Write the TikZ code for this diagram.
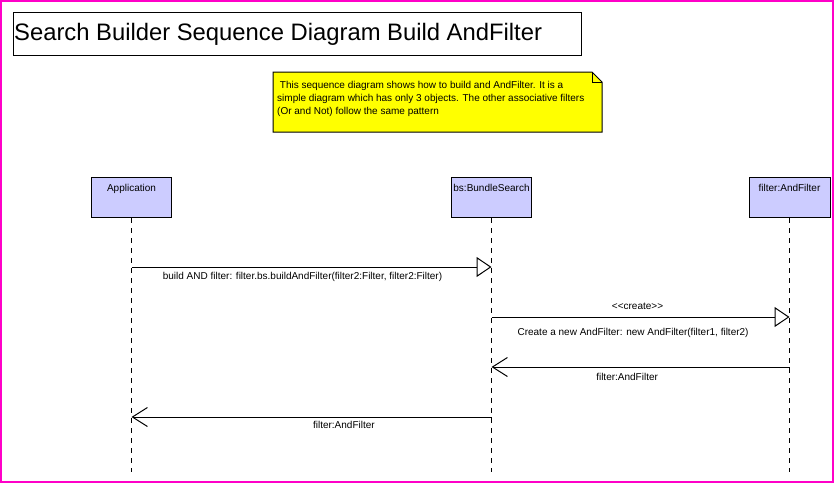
\documentclass[tikz,border=0pt]{standalone}
\usepackage{fontspec}
\setmainfont{Liberation Sans}
\usetikzlibrary{arrows.meta}
\definecolor{frame}{RGB}{255,0,200}
\definecolor{headfill}{RGB}{204,204,255}
\definecolor{notefill}{RGB}{255,255,0}
\tikzset{
  x=1pt, y=-1pt,
  lifehead/.style={draw=black, fill=headfill, line width=1pt, minimum width=80pt,
    inner xsep=0pt, inner ysep=0pt, text height=14pt, text depth=26pt,
    font=\fontsize{10}{12}\selectfont},
  lifeline/.style={draw=black, line width=1pt, dash pattern=on 5pt off 5pt},
  callmsg/.style={draw=black, line width=1pt, -{Triangle[open, length=15pt, width=20pt, fill=white]}},
  retmsg/.style={draw=black, line width=1pt, -{Straight Barb[length=15pt, width=19pt]}},
  msglabel/.style={font=\fontsize{10}{12}\selectfont, inner sep=1pt},
}
\begin{document}
\begin{tikzpicture}
\useasboundingbox (0,0) rectangle (834,483);
\draw[frame, line width=2pt] (1,1) rectangle (833,482);

% title
\node[draw=black, line width=1pt, minimum width=568pt, minimum height=43pt, anchor=north west,
  inner sep=0pt] (title) at (13,12) {};
\node[anchor=base west, font=\fontsize{23.8}{28}\selectfont, inner sep=0pt] (titletext) at (14,40)
  {Search Builder Sequence Diagram Build AndFilter};

% note
\draw[fill=notefill, line width=1pt] (273,72) -- (592,72) -- (602,82) -- (602,132) -- (273,132) -- cycle;
\draw[line width=1pt] (592,72) -- (592,82) -- (602,82);
\node[anchor=north west, align=left, inner sep=0pt, font=\fontsize{10}{13}\selectfont] (note) at (277,81)
  {\ This sequence diagram shows how to build and AndFilter. It is a\\
   simple diagram which has only 3 objects. The other associative filters\\
   (Or and Not) follow the same pattern};

% lifeline heads
\node[lifehead, anchor=north] (app) at (131.5,177) {Application};
\node[lifehead, anchor=north] (bs) at (491.5,177) {bs:BundleSearch};
\node[lifehead, anchor=north, minimum width=81pt] (af) at (789.5,177) {filter:AndFilter};

% lifeline ends
\coordinate (append) at (131.5,472);
\coordinate (bsend) at (491.5,472);
\coordinate (afend) at (789.5,472);
\draw[lifeline] (app.south) -- (append);
\draw[lifeline] (bs.south) -- (bsend);
\draw[lifeline] (af.south) -- (afend);

% message points
\coordinate (m1a) at (131.5,267);
\coordinate (m1b) at (491.5,267);
\coordinate (m2a) at (491.5,317);
\coordinate (m2b) at (789.5,317);
\coordinate (m3a) at (789.5,367);
\coordinate (m3b) at (491.5,367);
\coordinate (m4a) at (491.5,417);
\coordinate (m4b) at (131.5,417);

\draw[callmsg] (m1a) -- (m1b) node[msglabel, pos=0.475, below=4pt] (l1)
  {build AND filter: filter.bs.buildAndFilter(filter2:Filter, filter2:Filter)};
\draw[callmsg] (m2a) -- (m2b)
  node[msglabel, pos=0.49, above=6pt] (l2a) {<{}<create>{}>}
  node[msglabel, pos=0.475, below=10pt] (l2b) {Create a new AndFilter: new AndFilter(filter1, filter2)};
\draw[retmsg] (m3a) -- (m3b) node[msglabel, pos=0.545, below=5pt] (l3) {filter:AndFilter};
\draw[retmsg] (m4a) -- (m4b) node[msglabel, pos=0.41, below=3pt] (l4) {filter:AndFilter};
\end{tikzpicture}
\end{document}
